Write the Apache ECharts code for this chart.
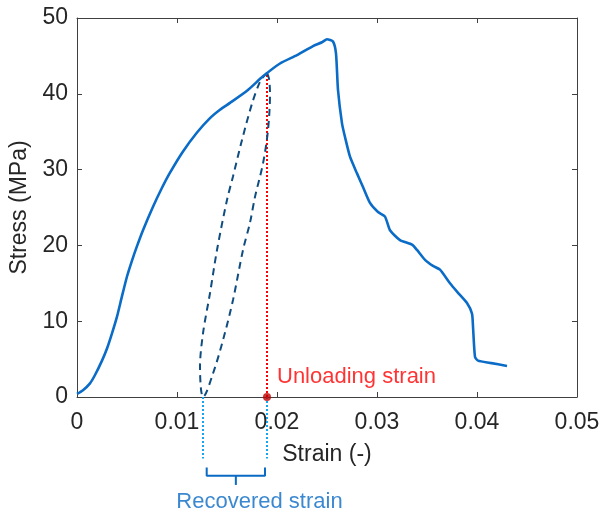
<!DOCTYPE html>
<html>
<head>
<meta charset="utf-8">
<script src="https://cdn.jsdelivr.net/npm/echarts@6/dist/echarts.min.js"></script>
<style>html,body{margin:0;padding:0;background:#fff}#c{width:603px;height:515px}</style>
</head>
<body>
<div id="c"></div>
<script>
// Main stress-strain curve
var strain = [0,0.0006,0.0013,0.0018,0.0025,0.003,0.0035,0.004,0.0045,0.005,0.0055,0.006,0.0066,0.0076,0.0085,0.0093,0.0106,0.012,0.0133,0.0143,0.0153,0.017,0.0186,0.0203,0.022,0.0236,0.0245,0.025,0.0256,0.0259,0.0261,0.0265,0.0268,0.0273,0.028,0.0286,0.0293,0.0301,0.0308,0.0313,0.0323,0.0335,0.034,0.0348,0.0356,0.0363,0.0373,0.038,0.039,0.0395,0.0396,0.0398,0.0401,0.0413,0.043];
var stress = [0.4,0.9,1.8,2.9,4.8,6.4,8.4,10.6,13.3,15.9,18.0,19.9,22.0,25.1,27.6,29.6,32.4,34.9,36.8,37.9,38.8,40.4,42.3,44.0,45.1,46.3,46.8,47.2,46.9,45.3,40.5,36.1,34.3,31.7,29.5,27.7,25.6,24.4,23.8,22.0,20.7,20.1,19.4,18.1,17.3,16.8,15.0,13.9,12.4,11.0,9.3,5.3,4.8,4.5,4.1];
// Unloading/reloading loop (dashed)
var loopStrain = [0.019,0.0188,0.0183,0.0175,0.0165,0.0156,0.015,0.014,0.0133,0.0126,0.0123,0.0124,0.0126,0.0136,0.0146,0.0156,0.0166,0.0173,0.0178,0.0186,0.0191,0.0193,0.0192,0.019];
var loopStress = [42.8,42.5,41.6,38.7,33.9,29.1,26.0,19.4,13.7,8.4,4.0,1.0,0,3.1,7.5,12.8,19.4,23.0,26.4,30.8,35.2,40.0,42.0,42.8];
// Annotation values
var unloadStrain = 0.019;
var unloadStress = 42.8;
var residualStrain = 0.0126;
var xTickLabels = ['0','0.01','0.02','0.03','0.04','0.05'];
var yTickLabels = ['0','10','20','30','40','50'];

function zip(a,b){return a.map(function(v,i){return [v,b[i]];});}

var FONT = "'Liberation Sans', Arial, sans-serif";
var AX = '#404040';
var TXT = '#262626';

var chart = echarts.init(document.getElementById('c'), null, {renderer:'canvas'});
var bracketTop = -9.3, bracketBot = -10.4, bracketTip = -11.6;
var bl = 0.01297, br = 0.0188, bc = (bl+br)/2;

var option = {
  animation: false,
  backgroundColor: '#fff',
  grid: {left: 77, right: 26, top: 18, bottom: 118, containLabel: false},
  xAxis: [{
    type: 'value', min: 0, max: 0.05, interval: 0.01,
    name: 'Strain (-)', nameLocation: 'middle', nameGap: 46,
    nameTextStyle: {fontSize: 23, color: TXT, fontFamily: FONT},
    axisLine: {show: true, onZero: false, lineStyle: {color: AX, width: 1}},
    axisTick: {show: true, inside: true, length: 5, lineStyle: {color: AX}},
    axisLabel: {fontSize: 23, color: TXT, fontFamily: FONT, margin: 14,
      formatter: function(v){return xTickLabels[Math.round(v/0.01)];}},
    splitLine: {show: false}
  },{
    type: 'value', min: 0, max: 0.05, interval: 0.01, position: 'top',
    axisLine: {show: true, onZero: false, lineStyle: {color: AX, width: 1}},
    axisTick: {show: true, inside: true, length: 5, lineStyle: {color: AX}},
    axisLabel: {show: false}, splitLine: {show: false}
  }],
  yAxis: [{
    type: 'value', min: 0, max: 50, interval: 10,
    name: 'Stress (MPa)', nameLocation: 'middle', nameGap: 37, nameRotate: 90,
    nameTextStyle: {fontSize: 23, color: TXT, fontFamily: FONT},
    axisLine: {show: true, onZero: false, lineStyle: {color: AX, width: 1}},
    axisTick: {show: true, inside: true, length: 5, lineStyle: {color: AX}},
    axisLabel: {fontSize: 23, color: TXT, fontFamily: FONT, margin: 9,
      formatter: function(v){return yTickLabels[Math.round(v/10)];}},
    splitLine: {show: false}
  },{
    type: 'value', min: 0, max: 50, interval: 10, position: 'right',
    axisLine: {show: true, onZero: false, lineStyle: {color: AX, width: 1}},
    axisTick: {show: true, inside: true, length: 5, lineStyle: {color: AX}},
    axisLabel: {show: false}, splitLine: {show: false}
  }],
  series: [
    {type: 'line', data: zip(strain, stress), showSymbol: false, symbol: 'none', smooth: 0.2,
     lineStyle: {color: '#0b6cc8', width: 2.6}, z: 5},
    {type: 'line', data: zip(loopStrain, loopStress), showSymbol: false, symbol: 'none', smooth: 0.3,
     lineStyle: {color: '#0f4c80', width: 2, type: [7,5]}, z: 4},
    {type: 'line', data: [[unloadStrain,0],[unloadStrain,unloadStress]], symbol: 'none',
     lineStyle: {color: '#ff0000', width: 2, type: [2,2]}, z: 3},
    {type: 'line', clip: false, data: [[residualStrain,0],[residualStrain,-8.1]], symbol: 'none',
     lineStyle: {color: '#10a6f2', width: 2, type: [2,2]}},
    {type: 'line', clip: false, data: [[unloadStrain,0],[unloadStrain,-8.1]], symbol: 'none',
     lineStyle: {color: '#10a6f2', width: 2, type: [2,2]}},
    {type: 'line', clip: false, data: [[bl,bracketTop],[bl,bracketBot],[br,bracketBot],[br,bracketTop]], symbol: 'none',
     lineStyle: {color: '#0a6ac4', width: 2}},
    {type: 'line', clip: false, data: [[bc,bracketBot],[bc,bracketTip]], symbol: 'none',
     lineStyle: {color: '#0a6ac4', width: 2}},
    {type: 'scatter', clip: false, data: [[unloadStrain,0]], symbolSize: 8,
     itemStyle: {color: '#c00000'}, z: 10},
    {type: 'scatter', clip: false, data: [[0.02, 2.6]], symbolSize: 0,
     label: {show: true, formatter: 'Unloading strain', position: [0,0], align: 'left', verticalAlign: 'middle',
       fontSize: 22, color: '#ff0000', fontFamily: FONT}},
    {type: 'scatter', clip: false, data: [[0.01825, -13.8]], symbolSize: 0,
     label: {show: true, formatter: 'Recovered strain', position: [0,0], align: 'center', verticalAlign: 'middle',
       fontSize: 22, color: '#0a6ac4', fontFamily: FONT}}
  ]
};
chart.setOption(option);
</script>
</body>
</html>
